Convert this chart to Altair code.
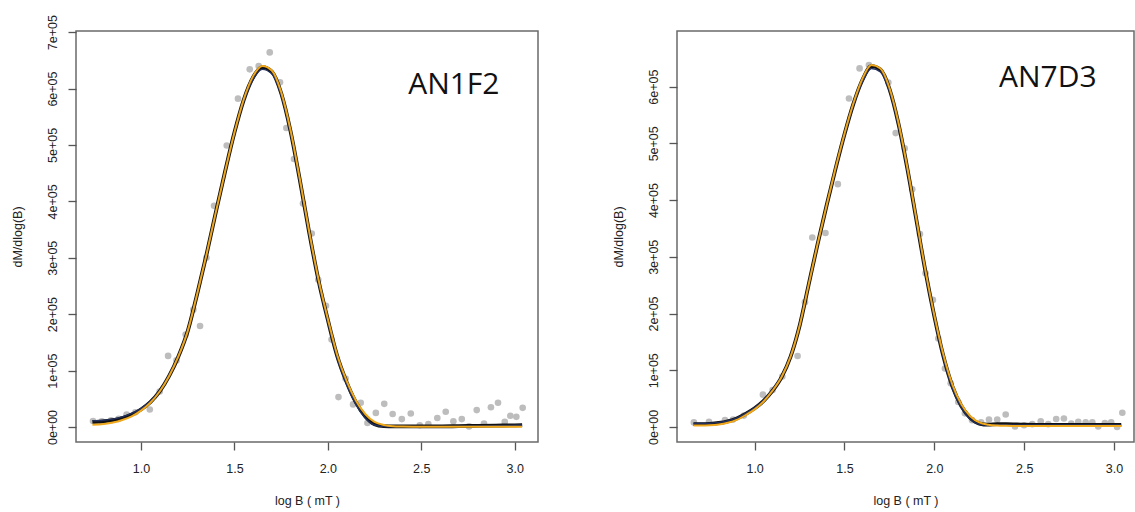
import altair as alt
import pandas as pd

# ---------------- AN1F2 (left panel) ----------------
L_CURVE_X = [0.74, 0.80, 0.85, 0.90, 0.95, 1.00, 1.05, 1.10, 1.15, 1.20, 1.25, 1.30, 1.35,
             1.40, 1.45, 1.50, 1.55, 1.60, 1.65, 1.70, 1.75, 1.80, 1.85, 1.90, 1.95, 2.00,
             2.05, 2.10, 2.15, 2.20, 2.25, 2.30, 2.35, 2.40, 2.50, 2.60, 2.70, 2.80, 2.90,
             3.00, 3.04]
L_BLACK = [9000, 10000, 12000, 16000, 22000, 31000, 44000, 63000, 90000, 125000, 170000,
           235000, 305000, 380000, 453000, 522000, 580000, 620000, 638000, 630000, 592000,
           525000, 438000, 345000, 260000, 190000, 126000, 80000, 44000, 19000, 5000, 1500,
           1000, 1000, 1000, 1000, 1500, 2000, 2500, 3000, 3500]
L_NAVY = [11000, 12000, 14000, 18000, 24000, 33000, 46000, 65000, 92000, 127000, 172000,
          237000, 306000, 380000, 452000, 520000, 577000, 616000, 634000, 626000, 588000,
          521000, 434000, 341000, 256000, 186000, 122000, 76000, 40000, 16000, 3500, 800,
          500, 1000, 1000, 1000, 1500, 2000, 2500, 3000, 3500]
L_ORANGE = [4000, 5500, 8000, 12500, 19000, 29000, 43000, 63000, 90000, 125000, 170000,
            235000, 305000, 380000, 453000, 522000, 581000, 622000, 640000, 632000, 594000,
            527000, 440000, 347000, 262000, 192000, 128000, 82000, 47000, 23000, 9000, 3500,
            1500, 1000, 500, 500, 500, 500, 500, 500, 500]
L_PTS_X = [0.743, 0.79, 0.84, 0.88, 0.923, 0.97, 1.047, 1.10, 1.145, 1.19, 1.239, 1.28, 1.316,
           1.35, 1.391, 1.459, 1.519, 1.582, 1.63, 1.689, 1.744, 1.778, 1.819, 1.867, 1.914,
           1.949, 1.990, 2.020, 2.057, 2.095, 2.135, 2.176, 2.212, 2.257, 2.302, 2.347, 2.396,
           2.444, 2.492, 2.538, 2.586, 2.631, 2.672, 2.717, 2.756, 2.797, 2.836, 2.873, 2.911,
           2.947, 2.977, 3.009, 3.043]
L_PTS_Y = [10600, 10000, 12000, 14500, 22000, 26000, 31000, 63000, 126000, 118000, 164000,
           208000, 179000, 300000, 392000, 499000, 582000, 634000, 640000, 664000, 611000,
           530000, 475000, 396000, 343000, 261000, 215000, 155000, 53000, 86000, 40000, 43000,
           7000, 25000, 41000, 23000, 14000, 24000, 3000, 5000, 16000, 27000, 10000, 14000,
           1000, 30000, 6000, 35000, 43000, 9000, 20000, 18000, 34000]

# ---------------- AN7D3 (right panel) ----------------
R_CURVE_X = [0.66, 0.70, 0.75, 0.80, 0.85, 0.90, 0.95, 1.00, 1.05, 1.10, 1.15, 1.20, 1.25,
             1.30, 1.35, 1.40, 1.45, 1.50, 1.55, 1.60, 1.65, 1.70, 1.75, 1.80, 1.85, 1.90,
             1.95, 2.00, 2.05, 2.10, 2.15, 2.20, 2.25, 2.30, 2.35, 2.40, 2.50, 2.60, 2.70,
             2.80, 2.90, 3.00, 3.04]
R_BLACK = [5000, 5000, 5500, 7000, 10000, 15000, 23000, 33000, 46000, 64000, 88000, 124000,
           178000, 250000, 322000, 390000, 455000, 516000, 570000, 612000, 636000, 630000,
           596000, 535000, 455000, 365000, 275000, 195000, 125000, 72000, 37000, 16000, 6000,
           4000, 5000, 5000, 4000, 3500, 3500, 3500, 3500, 3500, 3500]
R_NAVY = [6000, 6000, 6500, 8000, 11000, 16000, 24000, 34000, 47000, 66000, 90000, 126000,
          180000, 251000, 322000, 389000, 453000, 513000, 567000, 608000, 632000, 626000,
          592000, 531000, 451000, 361000, 271000, 191000, 121000, 68000, 34000, 13000, 4500,
          3000, 4000, 4000, 3500, 3500, 3500, 3500, 3500, 3500, 3500]
R_ORANGE = [2500, 2500, 3000, 4500, 7500, 12500, 21000, 31000, 45000, 64000, 88000, 124000,
            178000, 250000, 322000, 390000, 456000, 517000, 571000, 614000, 638000, 632000,
            598000, 537000, 457000, 367000, 277000, 197000, 128000, 75000, 40000, 19000, 8000,
            4000, 2500, 2000, 1500, 1500, 1500, 1500, 1500, 1500, 1500]
R_PTS_X = [0.662, 0.746, 0.835, 0.88, 0.94, 1.046, 1.10, 1.154, 1.239, 1.28, 1.321, 1.394,
           1.463, 1.525, 1.584, 1.636, 1.744, 1.785, 1.835, 1.877, 1.92, 1.951, 1.992, 2.022,
           2.059, 2.091, 2.133, 2.170, 2.21, 2.26, 2.304, 2.350, 2.397, 2.449, 2.499, 2.545,
           2.592, 2.634, 2.678, 2.721, 2.762, 2.801, 2.842, 2.879, 2.912, 2.949, 2.984, 3.017,
           3.046]
R_PTS_Y = [8000, 9000, 12000, 13000, 20000, 57000, 65000, 89000, 125000, 220000, 334000,
           342000, 428000, 579000, 632000, 638000, 607000, 518000, 491000, 419000, 340000,
           271000, 224000, 156000, 103000, 77000, 44000, 24000, 12000, 8000, 13000, 13000,
           22000, 1000, 3000, 5000, 10000, 5000, 14000, 15000, 6000, 9000, 8000, 8000, 1000,
           7000, 8000, 0, 25000]

X_TICKS = [1.0, 1.5, 2.0, 2.5, 3.0]
L_Y_TICKS = [0, 100000, 200000, 300000, 400000, 500000, 600000, 700000]
R_Y_TICKS = [0, 100000, 200000, 300000, 400000, 500000, 600000]

FONT = "Liberation Sans"
LABEL_EXPR = "format(datum.value / 100000, 'd') + (datum.value == 0 ? 'e+00' : 'e+05')"


def panel(cx, black, navy, orange, px, py, xdom, ydom, yticks, name, name_x, name_y, width):
    xs = alt.Scale(domain=xdom, nice=False, zero=False)
    ys = alt.Scale(domain=ydom, nice=False, zero=False)
    xax = alt.Axis(values=X_TICKS, format=".1f", grid=False, domain=False, tickSize=8,
                   tickColor="#555555", tickWidth=1.3, labelFont=FONT, labelFontSize=12.5,
                   labelColor="#222222", labelPadding=12, labelFlush=False,
                   title="log B ( mT )", titleFont=FONT, titleFontSize=12.5,
                   titleFontWeight="normal", titleColor="#222222", titlePadding=20)
    yax = alt.Axis(values=yticks, labelExpr=LABEL_EXPR, grid=False, domain=False, tickSize=8,
                   tickColor="#555555", tickWidth=1.3, labelFont=FONT, labelFontSize=12.5,
                   labelColor="#222222", labelAngle=270, labelAlign="center",
                   labelBaseline="bottom", labelPadding=9, labelFlush=False,
                   labelOverlap=False, title="dM/dlog(B)", titleFont=FONT,
                   titleFontSize=12.5, titleFontWeight="normal", titleColor="#222222",
                   titlePadding=22)

    pts = pd.DataFrame({"x": px, "y": py})
    crv = pd.DataFrame({"x": cx, "black": black, "navy": navy, "orange": orange})

    p = alt.Chart(pts).mark_circle(size=44, color="#bdbdbd", opacity=1).encode(
        x=alt.X("x:Q", scale=xs, axis=xax), y=alt.Y("y:Q", scale=ys, axis=yax))
    lb = alt.Chart(crv).mark_line(color="#111111", strokeWidth=3.8, interpolate="monotone").encode(
        x=alt.X("x:Q", scale=xs), y=alt.Y("black:Q", scale=ys))
    ln = alt.Chart(crv).mark_line(color="#22305e", strokeWidth=1.4, interpolate="monotone").encode(
        x=alt.X("x:Q", scale=xs), y=alt.Y("navy:Q", scale=ys))
    lo = alt.Chart(crv).mark_line(color="#f0a81c", strokeWidth=2.0, interpolate="monotone").encode(
        x=alt.X("x:Q", scale=xs), y=alt.Y("orange:Q", scale=ys))
    txt = alt.Chart(pd.DataFrame({"x": [name_x], "y": [name_y], "t": [name]})).mark_text(
        font="Open Sans", fontSize=30, align="left", baseline="alphabetic", color="#111111"
    ).encode(x=alt.X("x:Q", scale=xs), y=alt.Y("y:Q", scale=ys), text="t:N")
    return alt.layer(p, lb, ln, lo, txt).properties(width=width, height=411)


left = panel(L_CURVE_X, L_BLACK, L_NAVY, L_ORANGE, L_PTS_X, L_PTS_Y,
             [0.652, 3.125], [-26600, 702000], L_Y_TICKS, "AN1F2", 2.43, 5.9e5, 462)
right = panel(R_CURVE_X, R_BLACK, R_NAVY, R_ORANGE, R_PTS_X, R_PTS_Y,
              [0.568, 3.111], [-26500, 698000], R_Y_TICKS, "AN7D3", 2.36, 6.0e5, 457)

chart = alt.hconcat(left, right, spacing=139, bounds="flush").properties(
    padding={"left": 10, "top": 13, "right": 0, "bottom": 0},
    background="white",
).configure_view(stroke="#6a6a6a", strokeWidth=1.5)

chart.save("out.html", embed_options={"renderer": "svg", "actions": False})
